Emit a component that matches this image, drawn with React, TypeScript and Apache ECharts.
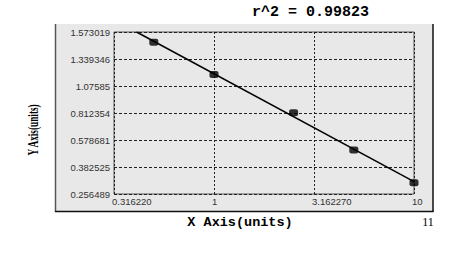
import React, { useEffect, useRef } from "react";
import * as echarts from "echarts";

// Y axis tick labels (equally spaced positions 0..6 on the chart)
const yTickLabels = ["0.256489", "0.382525", "0.578681", "0.812354", "1.07585", "1.339346", "1.573019"];
// X axis ticks (log scale)
const xTickValues = [0.31622, 1, 3.16227, 10];
const xTickLabels = ["0.316220", "1", "3.162270", "10"];

// Standard points: concentration and position on the y axis (in tick-index units)
const pointX = [0.5, 1, 2.5, 5, 10];
const pointY = [5.62, 4.43, 3.01, 1.63, 0.42];

// Fitted line endpoints
const fitX = [0.41, 10];
const fitY = [6.0, 0.46];

const title = "r^2 = 0.99823";
const xName = "X Axis(units)";
const yName = "Y Axis(units)";
const pageNo = "11";

export default function App() {
  const ref = useRef<HTMLDivElement>(null);
  useEffect(() => {
    document.body.style.margin = "0";
    const chart = echarts.init(ref.current!, null, { renderer: "svg" });
    const nearestLabel = (v: number) => {
      let best = 0;
      let bd = Infinity;
      xTickValues.forEach((t, i) => {
        const d = Math.abs(Math.log10(t) - Math.log10(v));
        if (d < bd) {
          bd = d;
          best = i;
        }
      });
      return bd < 0.05 ? xTickLabels[best] : "";
    };
    chart.setOption({
      animation: false,
      backgroundColor: "#ffffff",
      graphic: [
        {
          type: "rect",
          z: -10,
          shape: { x: 55, y: 24, width: 378, height: 188 },
          style: { fill: "#e8e8e8" },
        },
        { type: "line", z: -9, shape: { x1: 55.5, y1: 24, x2: 55.5, y2: 212 }, style: { stroke: "#555", lineWidth: 1.5 } },
        { type: "line", z: -9, shape: { x1: 433, y1: 24, x2: 433, y2: 212 }, style: { stroke: "#111", lineWidth: 1.5 } },
        { type: "line", z: -9, shape: { x1: 55, y1: 211.5, x2: 433.5, y2: 211.5 }, style: { stroke: "#111", lineWidth: 1.5 } },
        {
          type: "text",
          x: 310.5,
          y: 12,
          style: {
            text: title,
            fontFamily: "Liberation Mono",
            fontWeight: "bold",
            fontSize: 15,
            fill: "#000",
            align: "center",
            verticalAlign: "middle",
          },
        },
        {
          type: "text",
          x: 240,
          y: 222,
          style: {
            text: xName,
            fontFamily: "Liberation Mono",
            fontWeight: "bold",
            fontSize: 13.5,
            fill: "#000",
            align: "center",
            verticalAlign: "middle",
          },
        },
        {
          type: "text",
          x: 33,
          y: 130,
          rotation: Math.PI / 2,
          scaleX: 0.66,
          style: {
            text: yName,
            fontFamily: "Liberation Serif",
            fontWeight: "bold",
            fontSize: 14,
            fill: "#000",
            align: "center",
            verticalAlign: "middle",
          },
        },
        {
          type: "text",
          x: 428,
          y: 222,
          style: {
            text: pageNo,
            fontFamily: "Liberation Serif",
            fontSize: 12,
            fill: "#000",
            align: "center",
            verticalAlign: "middle",
          },
        },
      ],
      grid: {
        left: 114,
        top: 32,
        width: 300,
        height: 162,
        show: true,
        backgroundColor: "#e8e8e8",
        borderColor: "#555",
        borderWidth: 1,
      },
      xAxis: {
        type: "log",
        logBase: 10,
        min: xTickValues[0],
        max: xTickValues[xTickValues.length - 1],
        interval: 0.5,
        axisLine: { show: false },
        axisTick: { show: false },
        axisLabel: {
          formatter: (v: number) => nearestLabel(v),
          fontFamily: "Liberation Sans",
          fontSize: 9.5,
          color: "#333",
          align: "left",
          padding: [0, 0, 0, -2],
          margin: 2,
          showMinLabel: true,
          showMaxLabel: true,
        },
        splitLine: {
          show: true,
          lineStyle: { color: "#222", type: [2, 2], width: 1 },
        },
      },
      yAxis: {
        type: "value",
        min: 0,
        max: 6,
        interval: 1,
        axisLine: { show: false },
        axisTick: { show: false },
        axisLabel: {
          formatter: (v: number) => yTickLabels[Math.round(v)] ?? "",
          fontFamily: "Liberation Sans",
          fontSize: 9.5,
          color: "#333",
          margin: 4,
        },
        splitLine: {
          show: true,
          lineStyle: { color: "#222", type: [3, 2], width: 1 },
        },
      },
      series: [
        {
          type: "line",
          data: fitX.map((x, i) => [x, fitY[i]]),
          showSymbol: false,
          clip: true,
          lineStyle: { color: "#000", width: 1.5 },
          z: 2,
        },
        {
          type: "scatter",
          data: pointX.map((x, i) => [x, pointY[i]]),
          symbol: "roundRect",
          symbolSize: [9, 7],
          itemStyle: { color: "#000" },
          z: 3,
        },
      ],
    });
    return () => chart.dispose();
  }, []);
  return <div ref={ref} style={{ position: "absolute", left: 0, top: 0, width: 466, height: 254 }} />;
}
